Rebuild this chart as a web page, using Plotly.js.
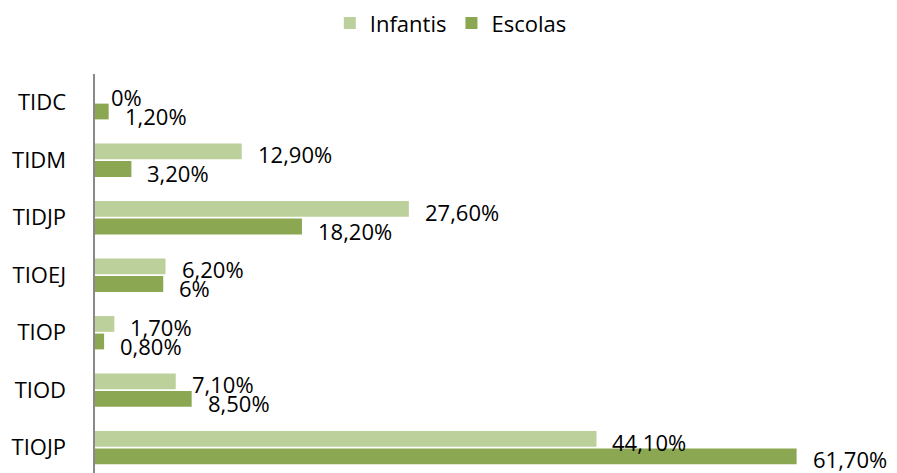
<!DOCTYPE html>
<html>
<head>
<meta charset="utf-8">
<script src="https://cdn.plot.ly/plotly-3.0.1.min.js"></script>
<style>html,body{margin:0;padding:0;background:#fff;}#chart{width:897px;height:473px;}</style>
</head>
<body>
<div id="chart"></div>
<script>
const categories = ["TIDC", "TIDM", "TIDJP", "TIOEJ", "TIOP", "TIOD", "TIOJP"];
const infantis = [0, 12.9, 27.6, 6.2, 1.7, 7.1, 44.1];
const escolas = [1.2, 3.2, 18.2, 6.0, 0.8, 8.5, 61.7];
const infantisLabels = ["0%", "12,90%", "27,60%", "6,20%", "1,70%", "7,10%", "44,10%"];
const escolasLabels = ["1,20%", "3,20%", "18,20%", "6%", "0,80%", "8,50%", "61,70%"];

const FONT = "'Open Sans', sans-serif";
const traces = [
  {type: 'bar', orientation: 'h', name: 'Infantis', y: categories, x: infantis,
   marker: {color: '#BBD09A'}, hoverinfo: 'none'},
  {type: 'bar', orientation: 'h', name: 'Escolas', y: categories, x: escolas,
   marker: {color: '#8CA751'}, hoverinfo: 'none'}
];

const annotations = [];
categories.forEach((c, i) => {
  annotations.push({x: infantis[i], y: c, xref: 'x', yref: 'y', text: infantisLabels[i],
    showarrow: false, xanchor: 'left', yanchor: 'middle', xshift: 14, yshift: 6,
    font: {family: FONT, size: 22, color: '#000'}});
  annotations.push({x: escolas[i], y: c, xref: 'x', yref: 'y', text: escolasLabels[i],
    showarrow: false, xanchor: 'left', yanchor: 'middle', xshift: 14,
    yshift: (i === categories.length - 1 ? -11 : -13),
    font: {family: FONT, size: 22, color: '#000'}});
});

const layout = {
  width: 897, height: 473,
  margin: {l: 95, r: 6, t: 74, b: 0},
  paper_bgcolor: '#fff', plot_bgcolor: '#fff',
  barmode: 'group', bargap: 0.39, bargroupgap: 0.1,
  font: {family: FONT, size: 22, color: '#000'},
  showlegend: true,
  legend: {orientation: 'h', x: 0.447, xanchor: 'center', y: 1.18, yanchor: 'top',
    font: {family: FONT, size: 22, color: '#000'}, itemclick: false, traceorder: 'normal'},
  xaxis: {range: [0, 70], showgrid: false, zeroline: false, showline: false,
    showticklabels: false, ticks: '', fixedrange: true},
  yaxis: {type: 'category', range: [6.44, -0.5], showgrid: false, zeroline: false,
    showline: true, linecolor: '#898989', linewidth: 2.5, ticks: '',
    ticklabelstandoff: 22, tickfont: {family: FONT, size: 22, color: '#000'}, fixedrange: true},
  annotations: annotations
};

Plotly.newPlot('chart', traces, layout, {displayModeBar: false, staticPlot: true});
</script>
</body>
</html>
